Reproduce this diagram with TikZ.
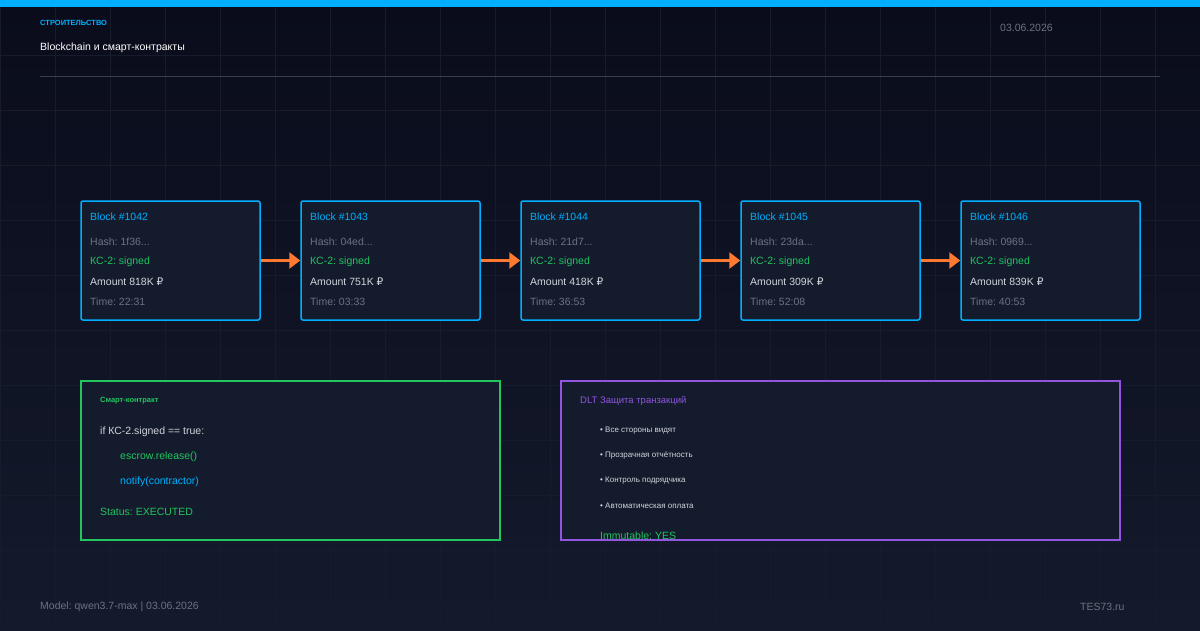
\documentclass[tikz,border=0pt]{standalone}
\usepackage{fontspec}
\setmainfont{Liberation Sans}
\newfontfamily\rubfont{DejaVu Sans}
\usetikzlibrary{arrows.meta,positioning}
\frenchspacing
\definecolor{bgtop}{HTML}{0A0C1B}
\definecolor{bgbot}{HTML}{141A2C}
\definecolor{gridc}{HTML}{171C2D}
\definecolor{accent}{HTML}{00B0FF}
\definecolor{boxfill}{HTML}{141B2D}
\definecolor{okgreen}{HTML}{22C55E}
\definecolor{violet}{HTML}{9155E0}
\definecolor{arrowc}{HTML}{FF7A30}
\definecolor{mutetxt}{HTML}{6B7280}
\definecolor{softtxt}{HTML}{D1D5DB}
\definecolor{rulec}{HTML}{3A3F4F}
\tikzset{
    block/.style={draw=accent,line width=1.5pt,fill=boxfill,rounded corners=2pt,minimum width=179pt,minimum height=119pt,inner sep=0pt},
    panel/.style={line width=2pt,fill=boxfill!85!bgbot,inner sep=0pt,minimum height=159pt},
    txt/.style={anchor=west,inner sep=0pt,font=\fontsize{10.5}{12}\selectfont},
    small/.style={anchor=west,inner sep=0pt,font=\fontsize{8}{10}\selectfont},
    link/.style={arrowc,line width=3pt,-{Triangle[length=11pt,width=16pt]}},
    gridline/.style={gridc,line width=1pt}
}

\begin{document}
\begin{tikzpicture}[x=1pt,y=-1pt]
    \useasboundingbox (0,0) rectangle (1200,630);
    \shade[top color=bgtop,bottom color=bgbot] (0,0) rectangle (1200,630);
    \foreach \gx in {0,55,...,1155} \draw[gridline] (\gx,0) -- (\gx,630);
    \foreach \gy in {55,110,...,605} \draw[gridline] (0,\gy) -- (1200,\gy);
    \fill[accent] (0,0) rectangle (1200,7);
    % header
    \node[small,accent,font=\bfseries\fontsize{7.5}{9}\selectfont] (kicker) at (40,23) {СТРОИТЕЛЬСТВО};
    \node[txt,white] (title) at (40,48) {Blockchain и смарт-контракты};
    \node[txt,mutetxt] (date) at (1000,28) {03.06.2026};
    \draw[rulec] (40,76) -- (1160,76);
    % chain
    \node[block] (b1) at (170.5,260.5) {};
    \node[block] (b2) at (390.5,260.5) {};
    \node[block] (b3) at (610.5,260.5) {};
    \node[block] (b4) at (830.5,260.5) {};
    \node[block] (b5) at (1050.5,260.5) {};
    \draw[link] (b1) -- (b2); \draw[link] (b2) -- (b3); \draw[link] (b3) -- (b4); \draw[link] (b4) -- (b5);
    \node[txt,accent] (n1) at (90,216.5) {Block \#1042};
    \node[txt,mutetxt] (h1) at (90,241.5) {Hash: 1f36...};
    \node[txt,okgreen] (s1) at (90,261.5) {КС-2: signed};
    \node[txt,softtxt] (a1) at (90,281.5) {Amount 818K {\rubfont ₽}};
    \node[txt,mutetxt] (m1) at (90,301.5) {Time: 22:31};
    \node[txt,accent] (n2) at (310,216.5) {Block \#1043};
    \node[txt,mutetxt] (h2) at (310,241.5) {Hash: 04ed...};
    \node[txt,okgreen] (s2) at (310,261.5) {КС-2: signed};
    \node[txt,softtxt] (a2) at (310,281.5) {Amount 751K {\rubfont ₽}};
    \node[txt,mutetxt] (m2) at (310,301.5) {Time: 03:33};
    \node[txt,accent] (n3) at (530,216.5) {Block \#1044};
    \node[txt,mutetxt] (h3) at (530,241.5) {Hash: 21d7...};
    \node[txt,okgreen] (s3) at (530,261.5) {КС-2: signed};
    \node[txt,softtxt] (a3) at (530,281.5) {Amount 418K {\rubfont ₽}};
    \node[txt,mutetxt] (m3) at (530,301.5) {Time: 36:53};
    \node[txt,accent] (n4) at (750,216.5) {Block \#1045};
    \node[txt,mutetxt] (h4) at (750,241.5) {Hash: 23da...};
    \node[txt,okgreen] (s4) at (750,261.5) {КС-2: signed};
    \node[txt,softtxt] (a4) at (750,281.5) {Amount 309K {\rubfont ₽}};
    \node[txt,mutetxt] (m4) at (750,301.5) {Time: 52:08};
    \node[txt,accent] (n5) at (970,216.5) {Block \#1046};
    \node[txt,mutetxt] (h5) at (970,241.5) {Hash: 0969...};
    \node[txt,okgreen] (s5) at (970,261.5) {КС-2: signed};
    \node[txt,softtxt] (a5) at (970,281.5) {Amount 839K {\rubfont ₽}};
    \node[txt,mutetxt] (m5) at (970,301.5) {Time: 40:53};
    % contract panel
    \node[panel,draw=okgreen,minimum width=419pt] (code) at (290.5,460.5) {};
    \node[small,okgreen,font=\bfseries\fontsize{7.5}{9}\selectfont] (codehead) at (100,401) {Смарт-контракт};
    \node[txt,softtxt] (c1) at (100,431.5) {if КС-2.signed == true:};
    \node[txt,okgreen] (c2) at (120,456.5) {escrow.release()};
    \node[txt,accent] (c3) at (120,481.5) {notify(contractor)};
    \node[txt,okgreen] (c4) at (100,511.5) {Status: EXECUTED};
    % ledger panel
    \node[panel,draw=violet,minimum width=559pt] (dlt) at (840.5,460.5) {};
    \node[small,violet,font=\fontsize{9.5}{11}\selectfont] (dlthead) at (580,401) {DLT Защита транзакций};
    \node[small,softtxt] (p1) at (600,431) {• Все стороны видят};
    \node[small,softtxt] (p2) at (600,456) {• Прозрачная отчётность};
    \node[small,softtxt] (p3) at (600,481) {• Контроль подрядчика};
    \node[small,softtxt] (p4) at (600,506) {• Автоматическая оплата};
    \node[txt,okgreen] (imm) at (600,536) {Immutable: YES};
    % footer
    \node[txt,mutetxt] (model) at (40,606.5) {Model: qwen3.7-max | 03.06.2026};
    \node[txt,mutetxt] (site) at (1080,606.5) {TES73.ru};
\end{tikzpicture}
\end{document}
